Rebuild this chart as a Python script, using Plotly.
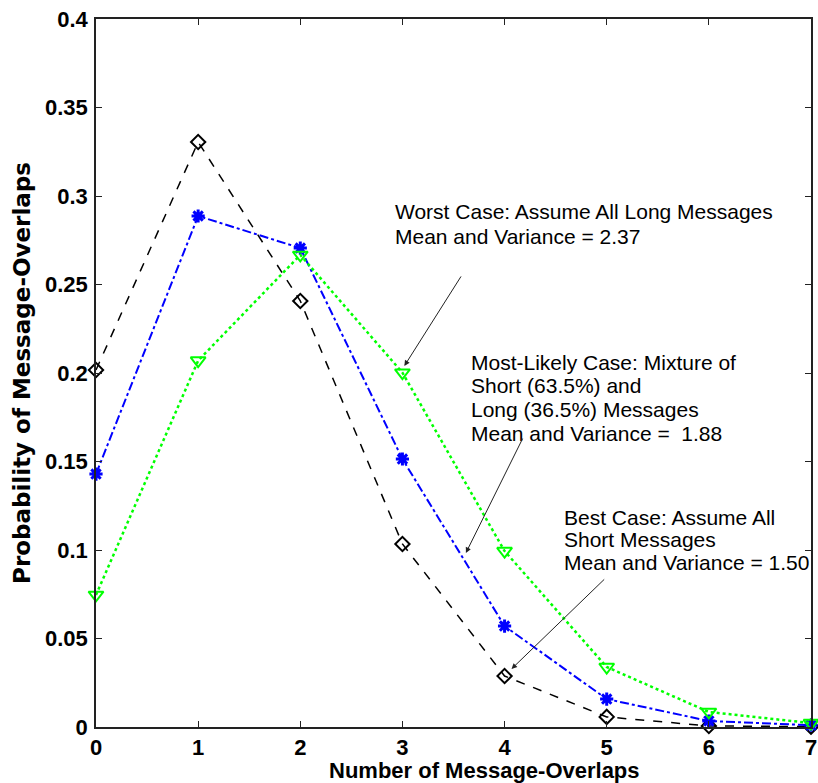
import plotly.graph_objects as go

# Number of overlapping messages
overlaps = [0, 1, 2, 3, 4, 5, 6, 7]

# Probability of each overlap count for the three traffic mixes
best_case = [0.2017, 0.3305, 0.2407, 0.1034, 0.0288, 0.0057, 0.0006, 0.0002]
most_likely = [0.1429, 0.2887, 0.2706, 0.1514, 0.0570, 0.0158, 0.0034, 0.0010]
worst_case = [0.0746, 0.2070, 0.2667, 0.2002, 0.0994, 0.0339, 0.0085, 0.0022]

y_tick_vals = [0, 0.05, 0.1, 0.15, 0.2, 0.25, 0.3, 0.35, 0.4]
y_tick_text = ["0", "0.05", "0.1", "0.15", "0.2", "0.25", "0.3", "0.35", "0.4"]

fig = go.Figure()

fig.add_trace(go.Scatter(
    x=overlaps, y=best_case, mode="lines+markers", cliponaxis=False,
    line=dict(color="black", width=1.5, dash="dash"),
    marker=dict(symbol="diamond-open", size=11, color="black", line=dict(width=2)),
    showlegend=False,
))
fig.add_trace(go.Scatter(
    x=overlaps, y=most_likely, mode="lines+markers", cliponaxis=False,
    line=dict(color="#0000ff", width=2, dash="dashdot"),
    marker=dict(symbol="asterisk-open", size=11, color="#0000ff", line=dict(width=3, color="#0000ff")),
    showlegend=False,
))
fig.add_trace(go.Scatter(
    x=overlaps, y=worst_case, mode="lines+markers", cliponaxis=False,
    line=dict(color="#00ff00", width=2.5, dash="dot"),
    marker=dict(symbol="triangle-down-open", size=13, color="#00ff00", line=dict(width=2)),
    showlegend=False,
))

note_font = dict(family="Liberation Sans, Arial, sans-serif", size=21, color="black")

# Annotation blocks: left edge (x), centre of each text line (y), lines
notes = [
    (2.910, [0.2915, 0.2774],
     ["Worst Case: Assume All Long Messages", "Mean and Variance = 2.37"]),
    (3.648, [0.2062, 0.1927, 0.1791, 0.1661],
     ["Most-Likely Case: Mixture of", "Short (63.5%) and",
      "Long (36.5%) Messages", "Mean and Variance =  1.88"]),
    (4.560, [0.1186, 0.1062, 0.0927],
     ["Best Case: Assume All", "Short Messages", "Mean and Variance = 1.50"]),
]
for nx, ys, lines in notes:
    for ny, txt in zip(ys, lines):
        fig.add_annotation(x=nx, y=ny, xref="x", yref="y", text=txt.replace("  ", "&nbsp; "),
                           showarrow=False, xanchor="left", yanchor="middle",
                           align="left", font=note_font)

arrows = [
    ((3.583, 0.2554), (3.019, 0.2040)),
    ((4.184, 0.1638), (3.621, 0.0983)),
    ((4.990, 0.0842), (4.068, 0.0328)),
]
for (tx, ty), (hx, hy) in arrows:
    fig.add_annotation(x=hx, y=hy, ax=tx, ay=ty, xref="x", yref="y", axref="x", ayref="y",
                       text="", showarrow=True, arrowhead=2, arrowsize=1.1, arrowwidth=1,
                       arrowcolor="#222222", standoff=0, startstandoff=0)

# X-axis title
fig.add_annotation(x=0.5437, y=-0.0610, xref="paper", yref="paper",
                   text="<b>Number of Message-Overlaps</b>", showarrow=False,
                   xanchor="center", yanchor="middle", borderpad=0,
                   font=dict(family="Liberation Sans, Arial, sans-serif", size=22, color="black"))

tick_font = dict(family="Liberation Sans, Arial, sans-serif", size=22, color="black", weight="bold")

fig.update_layout(
    width=818, height=783,
    margin=dict(l=96, r=1, t=19, b=56),
    paper_bgcolor="white", plot_bgcolor="white",
    font=dict(family="Liberation Sans, Arial, sans-serif", color="black"),
    xaxis=dict(
        range=[0, 7], dtick=1, tick0=0,
        ticks="inside", ticklen=6, tickwidth=1, tickcolor="#222222",
        showline=True, linecolor="#222222", linewidth=1.5, mirror="allticks",
        showgrid=False, zeroline=False, ticklabeloverflow="allow",
        tickfont=tick_font,
    ),
    yaxis=dict(
        range=[0, 0.4], tickvals=y_tick_vals, ticktext=y_tick_text,
        ticks="inside", ticklen=6, tickwidth=1, tickcolor="#222222",
        showline=True, linecolor="#222222", linewidth=1.5, mirror="allticks",
        showgrid=False, zeroline=False, ticklabelstandoff=2,
        tickfont=tick_font,
        title=dict(text="<b>Probability of Message-Overlaps</b>", standoff=8,
                   font=dict(family="DejaVu Sans, sans-serif", size=23, color="black")),
    ),
)

fig.write_html("out.html")
